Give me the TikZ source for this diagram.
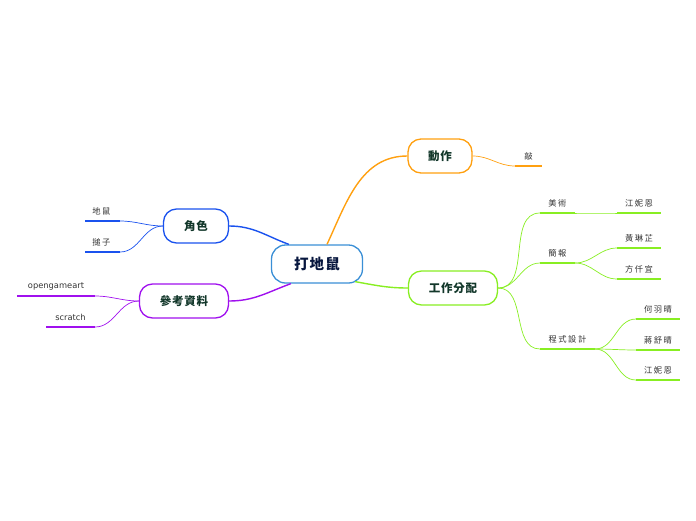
\documentclass[tikz,border=0pt]{standalone}
\usepackage{fontspec}
\setmainfont{Noto Sans CJK TC}
\newfontfamily\latinleaf{DejaVu Sans}
\usetikzlibrary{positioning, calc}

\definecolor{cblue}{HTML}{3A8FD6}
\definecolor{corange}{HTML}{FFA010}
\definecolor{cgreen}{HTML}{88EE22}
\definecolor{croyal}{HTML}{1A52EE}
\definecolor{cpurple}{HTML}{A010EE}
\definecolor{ctext}{HTML}{12372A}

\begin{document}
\begin{tikzpicture}[x=1pt, y=-1pt,
  central/.style={draw=cblue, line width=1.3pt, fill=white, rounded corners=14pt, minimum width=91pt, minimum height=38pt, font=\fontsize{14.5}{16}\selectfont\bfseries\addfontfeatures{LetterSpace=8}, text=ctext!70!blue!60!black},
  topic/.style={draw=#1, line width=1.3pt, fill=white, rounded corners=13pt, minimum height=34pt, font=\fontsize{11.5}{13}\selectfont\bfseries\addfontfeatures{LetterSpace=6}, text=ctext},
  leaf/.style={inner sep=1pt, font=\fontsize{8.3}{10}\selectfont\addfontfeatures{LetterSpace=18}, text=black!80, anchor=south},
  latin/.style={font=\fontsize{8.3}{10}\latinleaf},
  uline/.style={draw=#1, line width=2.2pt},
  branch/.style={draw=#1, line width=1.4pt},
  twig/.style={draw=#1, line width=0.7pt}]
\useasboundingbox (0,0) rectangle (696,520);

% center and main topics
\node[central] (root) at (317,264) {打地鼠};
\node[topic=corange, minimum width=64pt] (act) at (440,156) {動作};
\node[topic=cgreen, minimum width=89pt] (work) at (453,288) {工作分配};
\node[topic=croyal, minimum width=65pt] (role) at (196,226) {角色};
\node[topic=cpurple, minimum width=89pt] (ref) at (184,301) {參考資料};

\draw[branch=corange] ($(root.north)+(10,0)$) to[out=65, in=180] (act.west);
\draw[branch=cgreen] ($(root.south east)+(-8,-2)$) to[out=-10, in=180] (work.west);
\draw[branch=croyal] ($(root.north west)+(18,0)$) to[out=160, in=0] (role.east);
\draw[branch=cpurple] ($(root.south west)+(20,0)$) to[out=-160, in=0] (ref.east);

% leaves
\coordinate (hitL) at (515,166); \coordinate (hitR) at (542,166);
\node[leaf] (hit) at ($(hitL)!0.5!(hitR)+(0,-5)$) {敲};
\draw[uline=corange] (hitL) -- (hitR);
\draw[twig=corange] (act.east) to[out=0, in=180] (hitL);

\coordinate (artL) at (540,213); \coordinate (artR) at (575,213);
\node[leaf] (art) at ($(artL)!0.5!(artR)+(0,-5)$) {美術};
\coordinate (pptL) at (540,263); \coordinate (pptR) at (575,263);
\node[leaf] (ppt) at ($(pptL)!0.5!(pptR)+(0,-5)$) {簡報};
\coordinate (codeL) at (540,349); \coordinate (codeR) at (595,349);
\node[leaf] (code) at ($(codeL)!0.5!(codeR)+(0,-5)$) {程式設計};
\foreach \a/\b in {artL/artR, pptL/pptR, codeL/codeR} {
  \draw[uline=cgreen] (\a) -- (\b);
  \draw[twig=cgreen] (work.east) to[out=0, in=180] (\a);
}

\coordinate (jneL) at (617,213); \coordinate (jneR) at (661,213);
\node[leaf] (jne) at ($(jneL)!0.5!(jneR)+(0,-5)$) {江妮恩};
\coordinate (hlzL) at (617,248); \coordinate (hlzR) at (661,248);
\node[leaf] (hlz) at ($(hlzL)!0.5!(hlzR)+(0,-5)$) {黃琳芷};
\coordinate (fqyL) at (617,279); \coordinate (fqyR) at (661,279);
\node[leaf] (fqy) at ($(fqyL)!0.5!(fqyR)+(0,-5)$) {方仟宜};
\coordinate (hyqL) at (636,319); \coordinate (hyqR) at (680,319);
\node[leaf] (hyq) at ($(hyqL)!0.5!(hyqR)+(0,-5)$) {何羽晴};
\coordinate (jsqL) at (636,350); \coordinate (jsqR) at (680,350);
\node[leaf] (jsq) at ($(jsqL)!0.5!(jsqR)+(0,-5)$) {蔣舒晴};
\coordinate (jneBL) at (636,380); \coordinate (jneBR) at (680,380);
\node[leaf] (jneB) at ($(jneBL)!0.5!(jneBR)+(0,-5)$) {江妮恩};
\foreach \p/\a/\b in {artR/jneL/jneR, pptR/hlzL/hlzR, pptR/fqyL/fqyR, codeR/hyqL/hyqR, codeR/jsqL/jsqR, codeR/jneBL/jneBR} {
  \draw[uline=cgreen] (\a) -- (\b);
  \draw[twig=cgreen] (\p) to[out=0, in=180] (\a);
}

\coordinate (moleL) at (85,221); \coordinate (moleR) at (120,221);
\node[leaf] (mole) at ($(moleL)!0.5!(moleR)+(-1,-5)$) {地鼠};
\coordinate (hamL) at (85,252); \coordinate (hamR) at (120,252);
\node[leaf] (ham) at ($(hamL)!0.5!(hamR)+(-1,-5)$) {搥子};
\foreach \a/\b in {moleL/moleR, hamL/hamR} {
  \draw[uline=croyal] (\a) -- (\b);
  \draw[twig=croyal] (role.west) to[out=180, in=0] (\b);
}

\coordinate (ogaL) at (17,296); \coordinate (ogaR) at (95,296);
\node[leaf, latin] (oga) at ($(ogaL)!0.5!(ogaR)+(0,-5)$) {opengameart};
\coordinate (scrL) at (46,327); \coordinate (scrR) at (95,327);
\node[leaf, latin] (scr) at ($(scrL)!0.5!(scrR)+(0,-5)$) {scratch};
\foreach \a/\b in {ogaL/ogaR, scrL/scrR} {
  \draw[uline=cpurple] (\a) -- (\b);
  \draw[twig=cpurple] (ref.west) to[out=180, in=0] (\b);
}
\end{tikzpicture}
\end{document}
